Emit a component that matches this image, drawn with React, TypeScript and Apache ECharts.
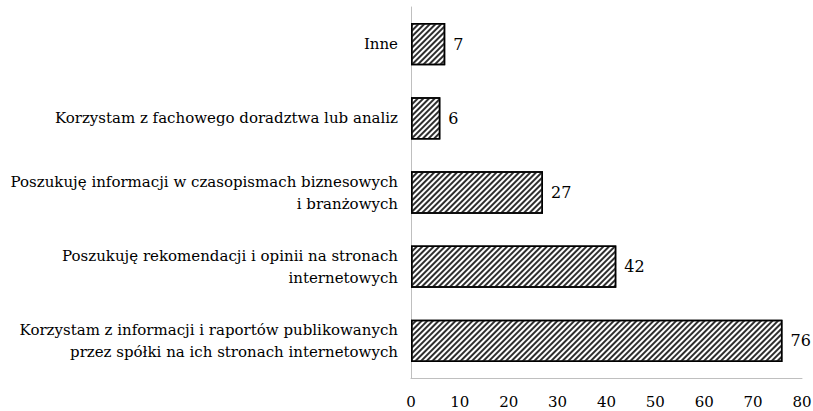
import React, { useEffect, useRef } from "react";
import * as echarts from "echarts";

const categories = [
  "Korzystam z informacji i raportów publikowanych\nprzez spółki na ich stronach internetowych",
  "Poszukuję rekomendacji i opinii na stronach\ninternetowych",
  "Poszukuję informacji w czasopismach biznesowych\ni branżowych",
  "Korzystam z fachowego doradztwa lub analiz",
  "Inne",
];
const values = [76, 42, 27, 6, 7];
const axisMin = 0;
const axisMax = 80;
const axisStep = 10;

const FONT = "DejaVu Serif";

export default function App() {
  const ref = useRef<HTMLDivElement>(null);
  useEffect(() => {
    if (!ref.current) return;
    const chart = echarts.init(ref.current, undefined, { renderer: "svg" });
    chart.setOption({
      animation: false,
      backgroundColor: "#ffffff",
      textStyle: { fontFamily: FONT },
      grid: { left: 411, right: 11, top: 7, bottom: 33, containLabel: false, outerBoundsMode: "none" },
      xAxis: {
        type: "value",
        min: axisMin,
        max: axisMax,
        interval: axisStep,
        splitLine: { show: false },
        axisTick: { show: false },
        axisLine: { show: true, lineStyle: { color: "#bfbfbf", width: 1 } },
        axisLabel: { color: "#000", fontFamily: FONT, fontSize: 15, margin: 16 },
      },
      yAxis: {
        type: "category",
        data: categories,
        axisTick: { show: false },
        axisLine: { show: true, lineStyle: { color: "#bfbfbf", width: 1 } },
        axisLabel: {
          color: "#000",
          fontFamily: FONT,
          fontSize: 15,
          lineHeight: 22,
          margin: 13,
          align: "right",
        },
      },
      series: [
        {
          type: "bar",
          data: values,
          barCategoryGap: "43%",
          itemStyle: {
            color: "#ffffff",
            borderColor: "#000000",
            borderWidth: 1.5,
            decal: {
              symbol: "rect",
              symbolSize: 1,
              dashArrayX: [1, 0],
              dashArrayY: [2, 2],
              rotation: -Math.PI / 4,
              color: "#2e2e2e",
              backgroundColor: "#ffffff",
            },
          },
          label: {
            show: true,
            position: "right",
            distance: 8,
            color: "#000",
            fontFamily: FONT,
            fontSize: 16,
          },
        },
      ],
    });
    return () => chart.dispose();
  }, []);
  return <div ref={ref} style={{ width: 813, height: 411, position: "absolute", left: 0, top: 0 }} />;
}
